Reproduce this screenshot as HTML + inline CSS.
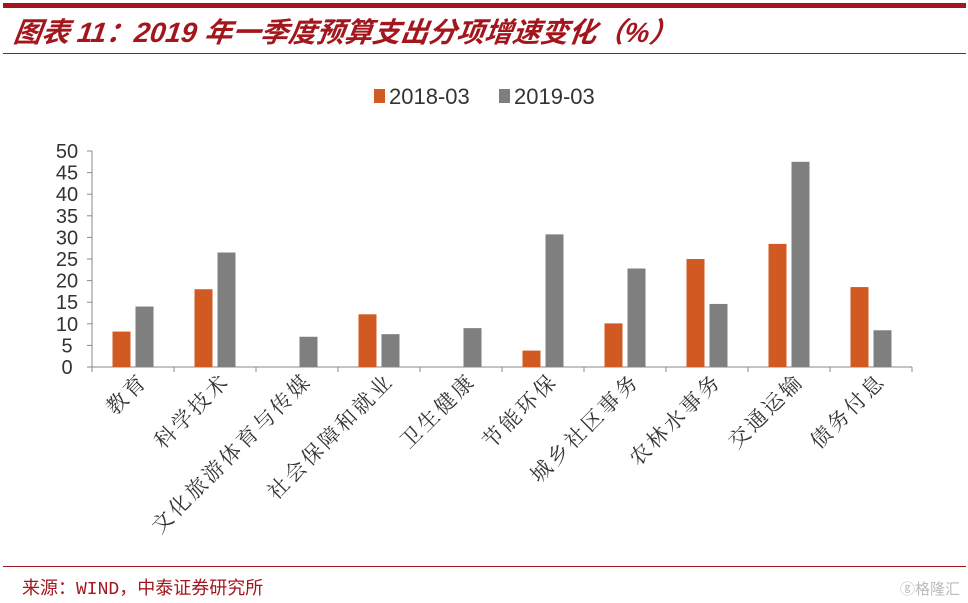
<!DOCTYPE html>
<html><head><meta charset="utf-8"><style>
body{margin:0;background:#fff;width:968px;height:603px;overflow:hidden;position:relative;font-family:"Liberation Sans","Noto Sans CJK SC",sans-serif}
.topbar{position:absolute;left:3px;top:3px;width:963px;height:5px;background:#a3161d}
.title{position:absolute;left:14px;top:11px;font-size:28px;font-weight:bold;font-style:italic;color:#a3161d;font-family:"Liberation Sans","Noto Sans CJK SC",sans-serif;transform:skewX(-8deg);transform-origin:left}
.rule{position:absolute;left:3px;top:53px;width:963px;height:1px;background:#a3161d}
.frule{position:absolute;left:3px;top:566px;width:963px;height:1px;background:#a3161d}
.src{position:absolute;left:22px;top:574px;font-size:18px;color:#a3161d;font-family:"Liberation Mono","Noto Sans CJK SC",monospace}
.wm{position:absolute;right:8px;top:578px;font-size:15px;color:#bbb}
</style></head><body>
<div class="topbar"></div>
<div class="title">图表 11：2019 年一季度预算支出分项增速变化（%）</div>
<div class="rule"></div>
<svg id="c" width="968" height="603" style="position:absolute;left:0;top:0"></svg>
<div class="frule"></div>
<div class="src">来源：WIND，中泰证券研究所</div>
<div class="wm">ⓖ格隆汇</div>
<script>
const categories=["教育","科学技术","文化旅游体育与传媒","社会保障和就业","卫生健康","节能环保","城乡社区事务","农林水事务","交通运输","债务付息"];
const s2018=[8.2,18,0,12.2,0,3.8,10.1,25,28.5,18.5];
const s2019=[14,26.5,7,7.6,9,30.7,22.8,14.6,47.5,8.5];
const ticks=[0,5,10,15,20,25,30,35,40,45,50];
const NS="http://www.w3.org/2000/svg";
const svg=document.getElementById('c');
const x0=92,x1=912,yZero=367,yTop=151,ymax=50;
const y=v=>yZero-(yZero-yTop)*v/ymax;
const band=(x1-x0)/categories.length;
const cx=i=>x0+band*(i+0.5);
function mk(t,a){const e=document.createElementNS(NS,t);for(const k in a)e.setAttribute(k,a[k]);svg.appendChild(e);return e;}
let ax=mk('line',{x1:x0,y1:yTop,x2:x0,y2:yZero,stroke:'#888'});


let bx=mk('line',{x1:x0,y1:yZero,x2:x1,y2:yZero,stroke:'#888'});


ticks.forEach(t=>{
 mk('line',{x1:x0-5,y1:y(t),x2:x0,y2:y(t),stroke:'#888'});
 const tx=mk('text',{x:x0-25,y:y(t)+7,'text-anchor':'middle','font-size':20,fill:'#333'});tx.textContent=t;
 
 
});
for(let i=0;i<=categories.length;i++)mk('line',{x1:x0+band*i,y1:yZero,x2:x0+band*i,y2:yZero+5,stroke:'#888'});
categories.forEach((c,i)=>{
 const w=18,g=5;
 const b1=mk('rect',{x:cx(i)-g/2-w,y:y(s2018[i]),width:w,height:yZero-y(s2018[i]),fill:'#d05a22'});
 
 
 const b2=mk('rect',{x:cx(i)+g/2,y:y(s2019[i]),width:w,height:yZero-y(s2019[i]),fill:'#7f7f7f'});
 
 
 const lx=cx(i)+16,ly=382;
 const t=mk('text',{x:lx,y:ly,'text-anchor':'end','font-size':21,'letter-spacing':3,fill:'#333',transform:`rotate(-45 ${lx} ${ly})`,'font-family':'"Noto Serif CJK SC","Noto Sans CJK SC",serif'});
 t.textContent=c;
 
 
});
const leg=[["2018-03","#d05a22",374],["2019-03","#7f7f7f",499]];
leg.forEach(l=>{
 const r=mk('rect',{x:l[2],y:89,width:11,height:14,fill:l[1]});
 
 
 const t=mk('text',{x:l[2]+15,y:104,'font-size':22,fill:'#333'});t.textContent=l[0];
 
 
});
</script>
</body></html>
